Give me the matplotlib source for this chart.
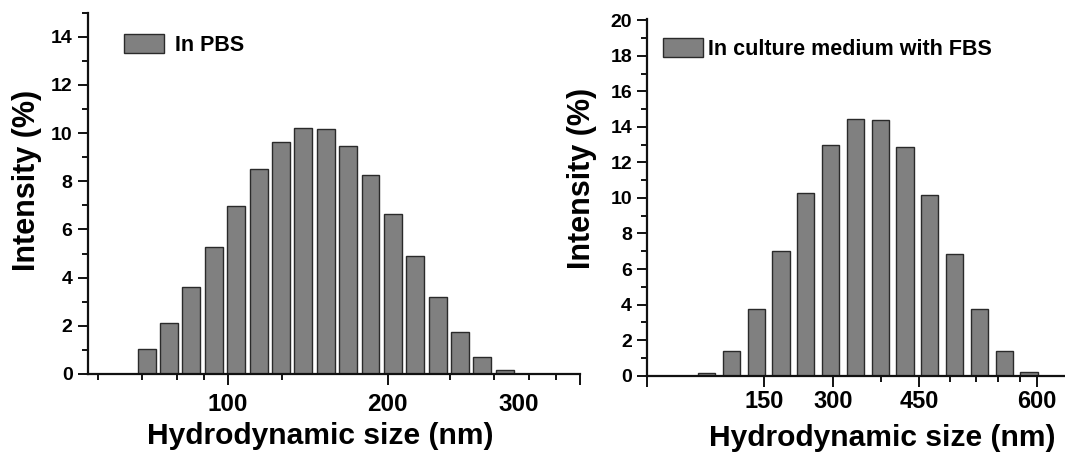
import matplotlib
matplotlib.use("Agg")
import matplotlib.pyplot as plt
import numpy as np

# ---------------- data ----------------
pbs_label = "In PBS"
pbs_values = [1.02, 2.13, 3.60, 5.28, 6.98, 8.52, 9.65, 10.22, 10.17, 9.48,
              8.26, 6.64, 4.88, 3.18, 1.74, 0.72, 0.17]
pbs_tick_labels = ["100", "200", "300"]

fbs_label = "In culture medium with FBS"
fbs_values = [0.15, 1.38, 3.78, 7.00, 10.29, 12.97, 14.44, 14.40, 12.86,
              10.14, 6.87, 3.74, 1.40, 0.19]
fbs_tick_labels = ["150", "300", "450", "600"]

xlabel = "Hydrodynamic size (nm)"
ylabel = "Intensity (%)"

# ---------------- layout (bar-index units) ----------------
pbs_major_pos = [3.63, 10.77, 16.62]
pbs_minor_pos = [-2.17, -0.21, 1.35, 2.56, 6.04, 13.54, 15.5, 17.06, 18.31]
pbs_end_tick = 19.34
pbs_xlim = (-2.63, 19.36)

fbs_major_pos = [2.33, 5.11, 8.58, 13.32]
fbs_minor_pos = [7.03, 9.82, 10.88, 11.75, 12.62]
fbs_xlim = (-2.39, 14.45)

W, H = 1065, 457
plt.rcParams['font.family'] = ['Liberation Sans', 'DejaVu Sans']
plt.rcParams['font.weight'] = 'bold'

fig = plt.figure(figsize=(W / 100, H / 100), dpi=100)

def px_rect(x0, x1, ytop, ybot):
    return [x0 / W, 1 - ybot / H, (x1 - x0) / W, (ybot - ytop) / H]

ax1 = fig.add_axes(px_rect(87.8, 580, 12.7, 374))
ax2 = fig.add_axes(px_rect(647.3, 1065, 19.3, 375.7))

face = "#808080"
edge = "#2a2a2a"

def style(ax, ymax, xsize, xpad):
    for s in ["top", "right"]:
        ax.spines[s].set_visible(False)
    for s in ["left", "bottom"]:
        ax.spines[s].set_linewidth(1.6)
        ax.spines[s].set_color("#111111")
    ax.set_ylim(0, ymax)
    ax.set_yticks(np.arange(0, ymax + 0.01, 2))
    ax.set_yticks(np.arange(1, ymax + 0.01, 2), minor=True)
    ax.tick_params(axis='y', which='major', direction='out', length=7, width=1.4,
                   labelsize=14, pad=4, color="#111111")
    ax.tick_params(axis='y', which='minor', direction='out', length=4, width=1.4,
                   color="#111111")
    ax.tick_params(axis='x', which='major', direction='out', length=8, width=1.4,
                   labelsize=xsize, pad=xpad, color="#111111")
    ax.tick_params(axis='x', which='minor', direction='out', length=4, width=1.4,
                   color="#111111")
    for lab in ax.get_yticklabels() + ax.get_xticklabels():
        lab.set_fontweight('bold')

# ---- left panel ----
x1 = np.arange(len(pbs_values))
ax1.bar(x1, pbs_values, width=0.8, color=face, edgecolor=edge, linewidth=1.0,
        label=pbs_label)
ax1.set_xlim(*pbs_xlim)
ax1.set_xticks(pbs_major_pos + [pbs_end_tick])
ax1.set_xticklabels(pbs_tick_labels + [""])
ax1.set_xticks(pbs_minor_pos, minor=True)
style(ax1, 15, 17.5, 6)
# no tick mark beneath the "300" label in the reference
ax1.xaxis.get_major_ticks()[2].tick1line.set_visible(False)

# ---- right panel ----
x2 = np.arange(len(fbs_values))
ax2.bar(x2, fbs_values, width=0.7, color=face, edgecolor=edge, linewidth=1.0,
        label=fbs_label)
ax2.set_xlim(*fbs_xlim)
ax2.set_xticks([fbs_xlim[0]] + fbs_major_pos)
ax2.set_xticklabels([""] + fbs_tick_labels)
ax2.set_xticks(fbs_minor_pos, minor=True)
style(ax2, 20.05, 17, 2)

leg1 = ax1.legend(loc='upper left', frameon=False, prop={'size': 15.5, 'weight': 'bold'},
                  handlelength=1.85, handleheight=1.0, handletextpad=0.55,
                  borderaxespad=0.3,
                  bbox_to_anchor=(108.7 / W, 1 - 19 / H), bbox_transform=fig.transFigure)
leg2 = ax2.legend(loc='upper left', frameon=False, prop={'size': 15.5, 'weight': 'bold'},
                  handlelength=1.85, handleheight=1.0, handletextpad=0.25,
                  borderaxespad=0.3,
                  bbox_to_anchor=(647.7 / W, 1 - 23 / H), bbox_transform=fig.transFigure)

# axis labels
fig.text(320 / W, 1 - 436 / H, xlabel, ha='center', va='center', fontsize=21.6, fontweight='bold')
fig.text(882 / W, 1 - 438 / H, xlabel, ha='center', va='center', fontsize=21.6, fontweight='bold')
fig.text(27 / W, 1 - 180 / H, ylabel, ha='center', va='center', rotation=90, fontsize=22, fontweight='bold')
fig.text(582 / W, 1 - 178 / H, ylabel, ha='center', va='center', rotation=90, fontsize=22, fontweight='bold')

fig.savefig("out.png", dpi=100)
